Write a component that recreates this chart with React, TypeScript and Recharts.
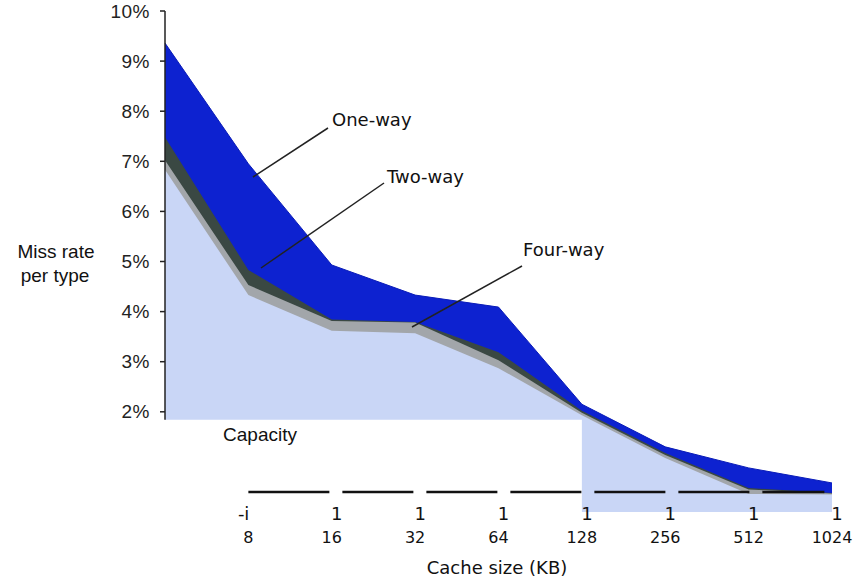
import React from 'react';
import { AreaChart, Area, XAxis, YAxis, ReferenceLine, ReferenceArea } from 'recharts';

const sizes = ['4', '8', '16', '32', '64', '128', '256', '512', '1024'];
const oneWay = [9.36, 6.95, 4.93, 4.33, 4.09, 2.15, 1.30, 0.88, 0.58];
const twoWay = [7.48, 4.83, 3.84, 3.79, 3.19, 2.02, 1.18, 0.48, 0.38];
const fourWay = [7.02, 4.53, 3.81, 3.78, 3.03, 1.98, 1.14, 0.45, 0.37];
const capacity = [6.83, 4.33, 3.62, 3.57, 2.87, 1.93, 1.08, 0.36, 0.35];
const topTickLabels = ['', '-i', '1', '1', '1', '1', '1', '1', '1'];
const yTicks = [2, 3, 4, 5, 6, 7, 8, 9, 10];

const data = sizes.map((s, i) => ({
  size: s,
  oneWay: oneWay[i],
  twoWay: twoWay[i],
  fourWay: fourWay[i],
  capacity: capacity[i],
}));

const XTick = (props: any) => {
  const { x, y, payload, index } = props;
  const idx = sizes.indexOf(payload.value);
  const top = topTickLabels[idx >= 0 ? idx : index];
  if (payload.value === '4') return null;
  return (
    <g>
      <text
        x={top === '-i' ? x + 1 : x + 5}
        y={y + 8}
        textAnchor={top === '-i' ? 'end' : 'middle'}
        fontFamily="DejaVu Sans"
        fontSize={18}
        fill="#111"
      >
        {top}
      </text>
      <text x={x} y={y + 31} textAnchor="middle" fontFamily="DejaVu Sans" fontSize={16} fill="#111">
        {payload.value}
      </text>
    </g>
  );
};

const YTick = (props: any) => {
  const { x, y, payload } = props;
  const t = (
    <text x={x} y={y} textAnchor="end" dominantBaseline="central" fontFamily="Liberation Sans" fontSize={19} letterSpacing={0.5} fill="#222">
      {payload.value + '%'}
    </text>
  );
  if (payload.value === 2) {
    return (
      <svg x={0} y={0} width={x + 40} height={y + 7} overflow="hidden">
        {t}
      </svg>
    );
  }
  return t;
};

const labelFont = 'DejaVu Sans';

export default function App() {
  return (
    <div style={{ position: 'absolute', left: 0, top: 0, width: 863, height: 579, background: '#fff' }}>
      <AreaChart width={863} height={579} data={data} margin={{ top: 11, right: 31, bottom: 0, left: 0 }}>
        <XAxis
          dataKey="size"
          type="category"
          height={67}
          axisLine={false}
          tickLine={false}
          tickSize={0}
          tickMargin={0}
          interval={0}
          tick={<XTick />}
        />
        <YAxis
          type="number"
          domain={[0, 10]}
          ticks={yTicks}
          width={165}
          axisLine={false}
          tickLine={{ stroke: '#222', strokeWidth: 1.5 }}
          tickSize={5}
          tickMargin={10}
          tick={<YTick />}
        />
        <Area dataKey="oneWay" type="linear" stroke="#0a1cb8" strokeWidth={1} fill="#0d22d0" fillOpacity={1} isAnimationActive={false} />
        <Area dataKey="twoWay" type="linear" stroke="none" fill="#3a4843" fillOpacity={1} isAnimationActive={false} />
        <Area dataKey="fourWay" type="linear" stroke="none" fill="#a2a6aa" fillOpacity={1} isAnimationActive={false} />
        <Area dataKey="capacity" type="linear" stroke="none" fill="#c9d6f6" fillOpacity={1} isAnimationActive={false} />
        <ReferenceArea x1="4" x2="128" y1={0} y2={1.84} fill="#ffffff" fillOpacity={1} stroke="none" ifOverflow="visible" zIndex={1000} />
        <ReferenceLine segment={[{ x: '4', y: 1.84 }, { x: '4', y: 10 }]} stroke="#222" strokeWidth={1.5} zIndex={1100} />
        <ReferenceLine
          segment={[{ x: '8', y: 0.4 }, { x: '1024', y: 0.4 }]}
          stroke="#111"
          strokeWidth={2.5}
          strokeDasharray="81 13 71 13 71 13 71 13 71 13 71 13 62"
          zIndex={1100}
        />
      </AreaChart>
      <svg width={863} height={579} style={{ position: 'absolute', left: 0, top: 0, pointerEvents: 'none' }}>
        <g stroke="#222" strokeWidth={1.5}>
          <line x1={253} y1={177} x2={328} y2={128} />
          <line x1={261} y1={268} x2={384} y2={183} />
          <line x1={412} y1={327} x2={522} y2={266} />
        </g>
        <g fontFamily={labelFont} fontSize={18} fill="#111">
          <text x={332} y={126}>One-way</text>
          <text x={387} y={183}>Two-way</text>
          <text x={523} y={256}>Four-way</text>
        </g>
        <g fontFamily="Liberation Sans" fontSize={19} fill="#111" textAnchor="middle">
          <text x={56} y={258}>Miss rate</text>
          <text x={55} y={282}>per type</text>
          <text x={260} y={441}>Capacity</text>
        </g>
        <text x={497} y={574} textAnchor="middle" fontFamily="DejaVu Sans" fontSize={18} fill="#111">
          Cache size (KB)
        </text>
      </svg>
    </div>
  );
}
